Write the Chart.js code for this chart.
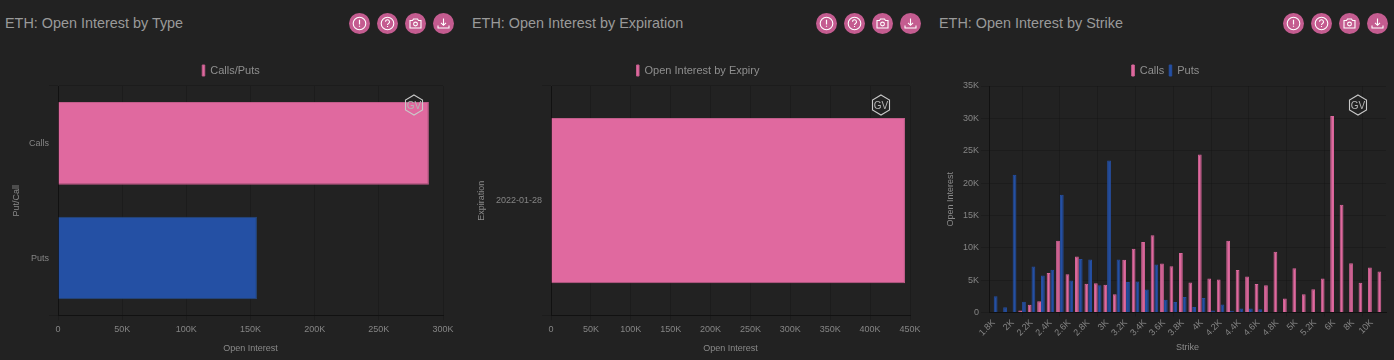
<!DOCTYPE html>
<html><head><meta charset="utf-8">
<script src="https://cdn.jsdelivr.net/npm/chart.js@4"></script>
<style>
html,body{margin:0;padding:0;background:#222222;width:1394px;height:360px;overflow:hidden;font-family:"Liberation Sans",Arial,sans-serif}
.t{position:absolute;top:14px;font-size:14.4px;line-height:18px;color:#9a9a9a;white-space:nowrap}
.c{position:absolute;top:60px;height:300px}
.i{position:absolute;top:12.5px;width:21px;height:21px}
.g{position:absolute;top:94px;width:20px;height:22px}
</style></head><body>
<div class="t" style="left:5px">ETH: Open Interest by Type</div>
<div class="t" style="left:472px">ETH: Open Interest by Expiration</div>
<div class="t" style="left:939px">ETH: Open Interest by Strike</div>
<div class="c" style="left:0;width:462px"><canvas id="a"></canvas></div>
<div class="c" style="left:467px;width:462px"><canvas id="b"></canvas></div>
<div class="c" style="left:934px;width:463px"><canvas id="d"></canvas></div>
<script>
const typeLabels = ['Calls', 'Puts'];
const typeValues = [289000, 155000];
const expiryLabels = ['2022-01-28'];
const expiryValues = [443700];
const strikes = ['1.8K','1.9K','2K','2.1K','2.2K','2.3K','2.4K','2.5K','2.6K','2.7K','2.8K','2.9K','3K','3.1K','3.2K','3.3K','3.4K','3.5K','3.6K','3.7K','3.8K','3.9K','4K','4.1K','4.2K','4.3K','4.4K','4.5K','4.6K','4.7K','4.8K','4.9K','5K','5.1K','5.2K','5.5K','6K','7K','8K','9K','10K','12K'];
const callValues = [0,0,0,300,1200,1750,6100,11100,5900,8650,4450,4500,4300,2800,8150,9850,10900,11950,7550,7150,9200,4650,24400,5250,5100,11100,6550,5550,4400,4200,9400,2150,6850,2800,3600,5250,30350,16650,7600,4600,6950,6350];
const putValues = [2500,800,21300,1650,7100,5700,6600,18200,4950,8250,8200,4200,23500,8200,4700,4800,3550,7400,1950,1600,2400,850,2250,300,1250,250,600,600,500,0,100,0,0,0,0,0,0,0,0,0,0,0];

const PINK='#e0699f', PINKB='#c25d8b', BLUE='#2450a4', BLUEB='#27497f';
const PINKT='#d8669a', BLUET='#254ea0';
const FONT='"Liberation Sans",Arial,sans-serif';
const GRID='rgba(0,0,0,0.15)';
Chart.defaults.animation=false;
Chart.defaults.font.family=FONT;
const fmt=v=>v===0?'0':(v/1000)+'K';
function axisTitle(text,top){return {display:true,text,color:'#8a8a8a',font:{size:9},padding:{top,bottom:3}};}
function legend(){return {position:'top',align:'center',labels:{color:'#8f8f8f',font:{size:11},boxWidth:2.5,boxHeight:11,padding:5},onClick:null};}
function horiz(id,labels,ds,max,yTitle,yW,titleTop){
  new Chart(document.getElementById(id),{type:'bar',data:{labels,datasets:ds},options:{
    responsive:true,maintainAspectRatio:false,indexAxis:'y',
    layout:{padding:{top:0,right:0,bottom:3,left:0}},
    plugins:{legend:legend(),tooltip:{enabled:false}},
    scales:{
      x:{min:0,max,afterFit(s){s.paddingRight=19;},ticks:{stepSize:50000,color:'#858585',font:{size:9},callback:fmt,maxRotation:0,padding:4},
         grid:{color:GRID,tickLength:5},border:{color:'#111'},title:axisTitle('Open Interest',4)},
      y:{afterFit(s){s.width=yW;},ticks:{color:'#858585',font:{size:9},padding:0},
         grid:{color:c=>(c.index===1?'rgba(0,0,0,0)':GRID),tickLength:9},border:{color:'#111'},
         title:axisTitle(yTitle,titleTop)}
    }}});
}
horiz('a',typeLabels,[{label:'Calls/Puts',data:typeValues,backgroundColor:[PINK,BLUE],borderColor:[PINKB,BLUEB],borderWidth:1}],300000,'Put/Call',58,11);
horiz('b',expiryLabels,[{label:'Open Interest by Expiry',data:expiryValues,backgroundColor:PINK,borderColor:PINKB,borderWidth:1}],450000,'Expiration',84,9);
new Chart(document.getElementById('d'),{type:'bar',data:{labels:strikes,datasets:[
  {label:'Calls',data:callValues,backgroundColor:PINK,borderColor:PINKT,borderWidth:1,barPercentage:1},
  {label:'Puts',data:putValues,backgroundColor:BLUE,borderColor:BLUET,borderWidth:1,barPercentage:1}]},
  options:{responsive:true,maintainAspectRatio:false,
  layout:{padding:{top:0,right:0,bottom:4,left:0}},
  plugins:{legend:legend(),tooltip:{enabled:false}},
  scales:{
    x:{afterFit(s){s.paddingRight=11;},ticks:{color:'#858585',font:{size:9},autoSkip:true,autoSkipPadding:0,maxTicksLimit:21,minRotation:45,maxRotation:45,padding:1},
       grid:{color:GRID,tickLength:4},border:{color:'#111'},title:axisTitle('Strike',3)},
    y:{min:0,max:35000,afterFit(s){s.width=55;},ticks:{stepSize:5000,color:'#858585',font:{size:9},callback:fmt,padding:2},
       grid:{color:GRID,tickLength:8},border:{color:'#111'},title:axisTitle('Open Interest',11)}
  }}});

const icons=[
 '<circle cx="10.5" cy="10.5" r="10.5" fill="#c45c90"/><circle cx="10.5" cy="10.5" r="6.3" fill="none" stroke="#fff" stroke-width="1.1"/><path d="M10.5 6.8v4.6M10.5 12.8v1" stroke="#fff" stroke-width="1.2"/>',
 '<circle cx="10.5" cy="10.5" r="10.5" fill="#c45c90"/><circle cx="10.5" cy="10.5" r="6.3" fill="none" stroke="#fff" stroke-width="1.1"/><path d="M8.5 8.8a2 2 0 1 1 3 1.7c-.7.4-1 .8-1 1.6M10.5 13v1" fill="none" stroke="#fff" stroke-width="1.1"/>',
 '<circle cx="10.5" cy="10.5" r="10.5" fill="#c45c90"/><path d="M5 7.5h2.5l1-1.5h4l1 1.5H16v7.5H5z" fill="none" stroke="#fff" stroke-width="1.1"/><circle cx="10.5" cy="11" r="1.9" fill="none" stroke="#fff" stroke-width="1.1"/>',
 '<circle cx="10.5" cy="10.5" r="10.5" fill="#c45c90"/><path d="M10.5 5.5v6.5M8 9.8l2.5 2.5 2.5-2.5M5 12.5v2.5h11v-2.5" fill="none" stroke="#fff" stroke-width="1.1"/>'];
const iconXs=[[349.2,376.8,404.8,432.8],[816.2,843.8,871.8,899.8],[1283.2,1310.8,1338.8,1366.8]];
iconXs.forEach(r=>r.forEach((x,i)=>{
  document.body.insertAdjacentHTML('beforeend',`<svg class="i" style="left:${x}px" viewBox="0 0 21 21">${icons[i]}</svg>`);
}));
[403.5,870.5,1348].forEach(x=>{
  document.body.insertAdjacentHTML('beforeend',`<svg class="g" style="left:${x}px" viewBox="0 0 20 22"><path d="M10 1 18.5 6v10L10 21 1.5 16V6z" fill="none" stroke="#c9c9c9" stroke-width="1.1"/><text x="10" y="14.5" text-anchor="middle" font-size="10" fill="#b5b5b5" font-family="Liberation Sans">GV</text></svg>`);
});
</script>
</body></html>
